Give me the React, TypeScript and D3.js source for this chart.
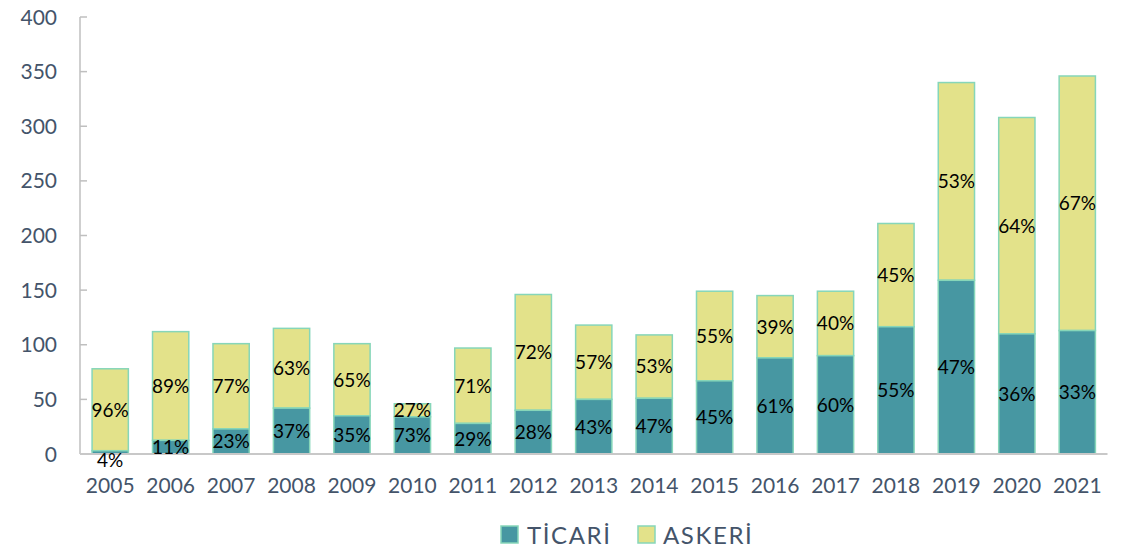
import React from "react";
import * as d3 from "d3";

const years = ["2005","2006","2007","2008","2009","2010","2011","2012","2013","2014","2015","2016","2017","2018","2019","2020","2021"];
const ticari = [3, 12.5, 23, 42, 35, 34, 28, 40, 50, 51, 67, 88, 90, 116.5, 159, 110, 113];
const toplam = [78, 112, 101, 115, 101, 46, 97, 146, 118, 109, 149, 145, 149, 211, 340, 308, 346];
const ticariPct = ["4%","11%","23%","37%","35%","73%","29%","28%","43%","47%","45%","61%","60%","55%","47%","36%","33%"];
const askeriPct = ["96%","89%","77%","63%","65%","27%","71%","72%","57%","53%","55%","39%","40%","45%","53%","64%","67%"];
const yTicks = [0, 50, 100, 150, 200, 250, 300, 350, 400];

const W = 1128, H = 549;
const left = 80, right = 1107.5, top = 17, bottom = 454;
const C_TIC = "#4797a2", C_ASK = "#e3e28a", C_STROKE = "#86d6b9", C_TXT = "#44546a";
const FONT = "Lato, 'Open Sans', sans-serif";

export default function App() {
  const x = d3.scaleBand<string>().domain(years).range([left, right]).paddingInner(0.4).paddingOuter(0.2);
  const y = d3.scaleLinear().domain([0, 400]).range([bottom, top]);
  const bw = x.bandwidth();
  return (
    <svg width={W} height={H} style={{ position: "absolute", left: 0, top: 0, fontFamily: FONT }}>
      <line x1={left} x2={left} y1={y(400)} y2={bottom} stroke="#bfbfbf" strokeWidth={1.5} />
      {yTicks.map(t => (
        <g key={t}>
          <line x1={left} x2={left + 7} y1={y(t)} y2={y(t)} stroke="#bfbfbf" strokeWidth={1.5} />
          <text x={57} y={y(t)} dy="0.36em" textAnchor="end" fontSize={21} fill={C_TXT}>{t}</text>
        </g>
      ))}
      {years.map((yr, i) => {
        const x0 = x(yr)!;
        return (
          <g key={yr}>
            <rect x={x0} y={y(toplam[i])} width={bw} height={y(ticari[i]) - y(toplam[i])} fill={C_ASK} stroke={C_STROKE} strokeWidth={1.5} />
            <rect x={x0} y={y(ticari[i])} width={bw} height={bottom - y(ticari[i])} fill={C_TIC} stroke={C_STROKE} strokeWidth={1.5} />
          </g>
        );
      })}
      <line x1={left} x2={right} y1={bottom} y2={bottom} stroke="#c8c8c8" strokeWidth={2} />
      {years.map((yr, i) => {
        const cx = x(yr)! + bw / 2;
        const yt = i === 0 ? bottom + 6 : (y(0) + y(ticari[i])) / 2;
        const ya = (y(ticari[i]) + y(toplam[i])) / 2;
        return (
          <g key={"l" + yr} fontSize={19} fill="#000" textAnchor="middle">
            <text x={cx} y={yt} dy="0.36em">{ticariPct[i]}</text>
            <text x={cx} y={ya} dy="0.36em">{askeriPct[i]}</text>
            <text x={cx} y={485} dy="0.36em" fontSize={21} fill={C_TXT}>{yr}</text>
          </g>
        );
      })}
      <rect x={501} y={526} width={17} height={17} fill={C_TIC} stroke={C_STROKE} strokeWidth={1.5} />
      <text x={527} y={535} dy="0.36em" fontSize={24} fill={C_TXT} letterSpacing={1.6}>TİCARİ</text>
      <rect x={638} y={526} width={17} height={17} fill={C_ASK} stroke={C_STROKE} strokeWidth={1.5} />
      <text x={663} y={535} dy="0.36em" fontSize={24} fill={C_TXT} letterSpacing={1.6}>ASKERİ</text>
    </svg>
  );
}
